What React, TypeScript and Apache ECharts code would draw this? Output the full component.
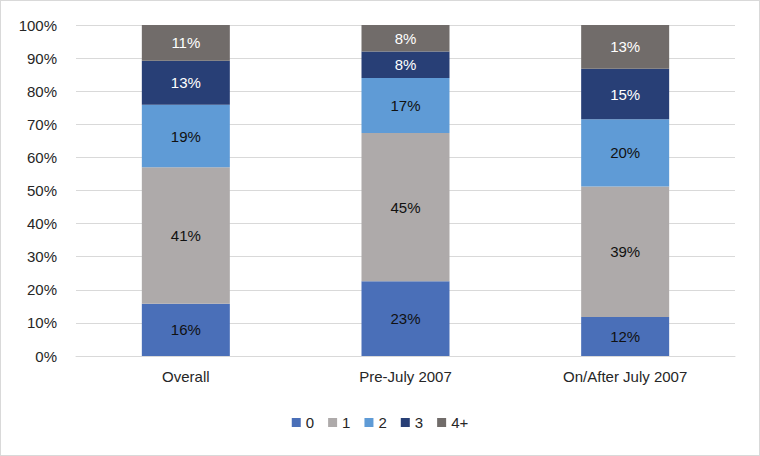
import React, { useEffect, useRef } from "react";
import * as echarts from "echarts";

const categories = ["Overall", "Pre-July 2007", "On/After July 2007"];
const seriesNames = ["0", "1", "2", "3", "4+"];
const s0 = [15.8, 22.6, 11.8];
const s1 = [41.2, 44.8, 39.4];
const s2 = [18.9, 16.6, 20.3];
const s3 = [13.3, 8.0, 15.3];
const s4 = [10.8, 8.0, 13.2];
const colors = ["#4A6FB8", "#AEAAAA", "#5F9BD6", "#283F76", "#716C6A"];
const labelColors = ["#111111", "#111111", "#111111", "#ffffff", "#ffffff"];

const FONT = "Liberation Sans";

export default function App() {
  const ref = useRef<HTMLDivElement>(null);
  useEffect(() => {
    if (!ref.current) return;
    const chart = echarts.init(ref.current, null, { renderer: "svg" });
    const data = [s0, s1, s2, s3, s4];
    chart.setOption({
      animation: false,
      backgroundColor: "#ffffff",
      textStyle: { fontFamily: FONT },
      grid: { left: 75, right: 24, top: 24, bottom: 99, containLabel: false },
      legend: {
        bottom: 20,
        left: "center",
        itemWidth: 9,
        itemHeight: 9,
        itemGap: 14,
        icon: "rect",
        textStyle: { fontSize: 15, color: "#262626", fontFamily: FONT },
        data: seriesNames,
      },
      xAxis: {
        type: "category",
        data: categories,
        axisLine: { lineStyle: { color: "#d9d9d9" } },
        axisTick: { show: false },
        axisLabel: { fontSize: 15, color: "#262626", margin: 13, fontFamily: FONT },
      },
      yAxis: {
        type: "value",
        min: 0,
        max: 100,
        interval: 10,
        axisLine: { show: false },
        axisTick: { show: false },
        splitLine: { lineStyle: { color: "#d9d9d9" } },
        axisLabel: {
          fontSize: 15,
          color: "#262626",
          margin: 19,
          formatter: "{value}%",
          fontFamily: FONT,
        },
      },
      series: data.map((d, i) => ({
        name: seriesNames[i],
        type: "bar",
        stack: "total",
        barWidth: 88,
        data: d,
        itemStyle: { color: colors[i] },
        label: {
          show: true,
          position: "inside",
          fontSize: 15,
          color: labelColors[i],
          fontFamily: FONT,
          formatter: (p: any) => Math.round(p.value) + "%",
        },
      })),
    });
    return () => chart.dispose();
  }, []);
  return (
    <div
      style={{
        width: 758,
        height: 454,
        border: "1px solid #d9d9d9",
        position: "absolute",
        left: 0,
        top: 0,
        background: "#fff",
      }}
    >
      <div ref={ref} style={{ width: 758, height: 454 }} />
    </div>
  );
}
